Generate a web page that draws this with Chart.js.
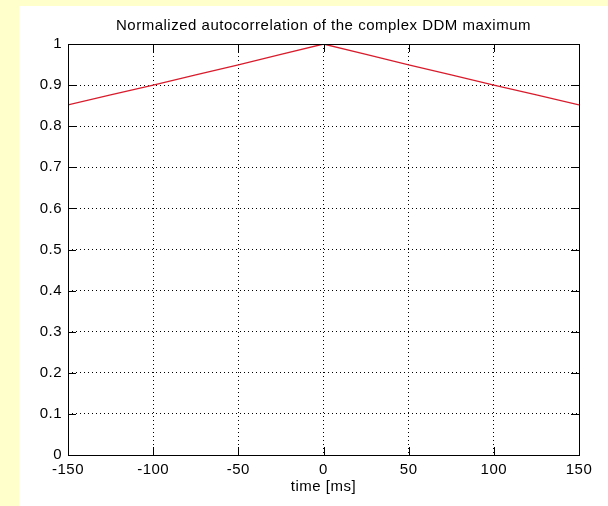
<!DOCTYPE html>
<html>
<head>
<meta charset="utf-8">
<script src="https://cdn.jsdelivr.net/npm/chart.js@4"></script>
<style>
  html, body { margin: 0; padding: 0; background: #ffffcc; }
  body { width: 608px; height: 506px; position: relative; overflow: hidden; }
  #fig { position: absolute; left: 19px; top: 6px; width: 589px; height: 500px; background: #fff; }
</style>
</head>
<body>
<div id="fig"><canvas id="chart" width="589" height="500"></canvas></div>
<script>
// Normalized autocorrelation of the complex DDM maximum

const TITLE = "Normalized autocorrelation of the complex DDM maximum";
const X_LABEL = "time [ms]";
const timeMs = [-150, -125, -100, -75, -50, -25, 0, 25, 50, 75, 100, 125, 150];
const corr = [0.852, 0.876, 0.900, 0.925, 0.949, 0.975, 1.0, 0.975, 0.949, 0.925, 0.900, 0.876, 0.852];
const xTicks = [-150, -100, -50, 0, 50, 100, 150];
const yTicks = [0, 0.1, 0.2, 0.3, 0.4, 0.5, 0.6, 0.7, 0.8, 0.9, 1];

const FONT = "'Liberation Sans', Arial, sans-serif";
const FONT_SIZE = 15;
const TICK_LEN = 8;

// matlab style box, inward ticks and title over the axes
const matlabAxes = {
  id: "matlabAxes",
  beforeDraw(chart) {
    chart.ctx.letterSpacing = "0.5px";
  },
  afterDraw(chart) {
    const ctx = chart.ctx;
    const a = chart.chartArea;
    const xs = chart.scales.x, ys = chart.scales.y;
    ctx.save();
    ctx.strokeStyle = "#000";
    ctx.lineWidth = 1;
    ctx.setLineDash([]);
    ctx.beginPath();
    xTicks.forEach(function(v) {
      const px = Math.round(xs.getPixelForValue(v)) + 0.5;
      ctx.moveTo(px, a.bottom); ctx.lineTo(px, a.bottom - TICK_LEN);
      ctx.moveTo(px, a.top); ctx.lineTo(px, a.top + TICK_LEN);
    });
    yTicks.forEach(function(v) {
      const py = Math.round(ys.getPixelForValue(v)) + 0.5;
      ctx.moveTo(a.left, py); ctx.lineTo(a.left + TICK_LEN, py);
      ctx.moveTo(a.right, py); ctx.lineTo(a.right - TICK_LEN, py);
    });
    ctx.stroke();
    ctx.strokeRect(Math.round(a.left) + 0.5, Math.round(a.top) + 0.5,
      Math.round(a.right - a.left), Math.round(a.bottom - a.top));
    ctx.fillStyle = "#000";
    ctx.font = FONT_SIZE + "px " + FONT;
    ctx.textAlign = "center";
    ctx.textBaseline = "middle";
    ctx.fillText(TITLE, (a.left + a.right) / 2, 20);
    ctx.fillText(X_LABEL, (a.left + a.right) / 2, 481);
    ctx.restore();
  },
};

function tickText(v) {
  return String(Math.round(v * 10) / 10);
}

const ctx = document.getElementById("chart").getContext("2d");
new Chart(ctx, {
  type: "line",
  data: {
    datasets: [{
      data: timeMs.map(function(t, i) { return { x: t, y: corr[i] }; }),
      borderColor: "#d81c2c",
      borderWidth: 1.3,
      pointRadius: 0,
      fill: false,
      tension: 0,
    }],
  },
  options: {
    responsive: false,
    animation: false,
    layout: { padding: { top: 38, right: 29, left: 0, bottom: 0 } },
    plugins: { legend: { display: false }, tooltip: { enabled: false } },
    scales: {
      x: {
        type: "linear",
        min: -150, max: 150,
        afterBuildTicks: function(s) { s.ticks = xTicks.map(function(v) { return { value: v }; }); },
        afterFit: function(s) { s.height = 51; },
        border: { display: false, dash: [1, 3] },
        grid: { color: "#000", lineWidth: 1, drawTicks: false },
        ticks: { color: "#000", font: { family: FONT, size: FONT_SIZE }, padding: 6, maxRotation: 0, callback: tickText },
      },
      y: {
        min: 0, max: 1,
        afterBuildTicks: function(s) { s.ticks = yTicks.map(function(v) { return { value: v }; }); },
        afterFit: function(s) { s.width = 49; },
        border: { display: false, dash: [1, 3] },
        grid: { color: "#000", lineWidth: 1, drawTicks: false },
        ticks: { color: "#000", font: { family: FONT, size: FONT_SIZE }, padding: 6, callback: tickText },
      },
    },
  },
  plugins: [matlabAxes],
});
</script>
</body>
</html>
